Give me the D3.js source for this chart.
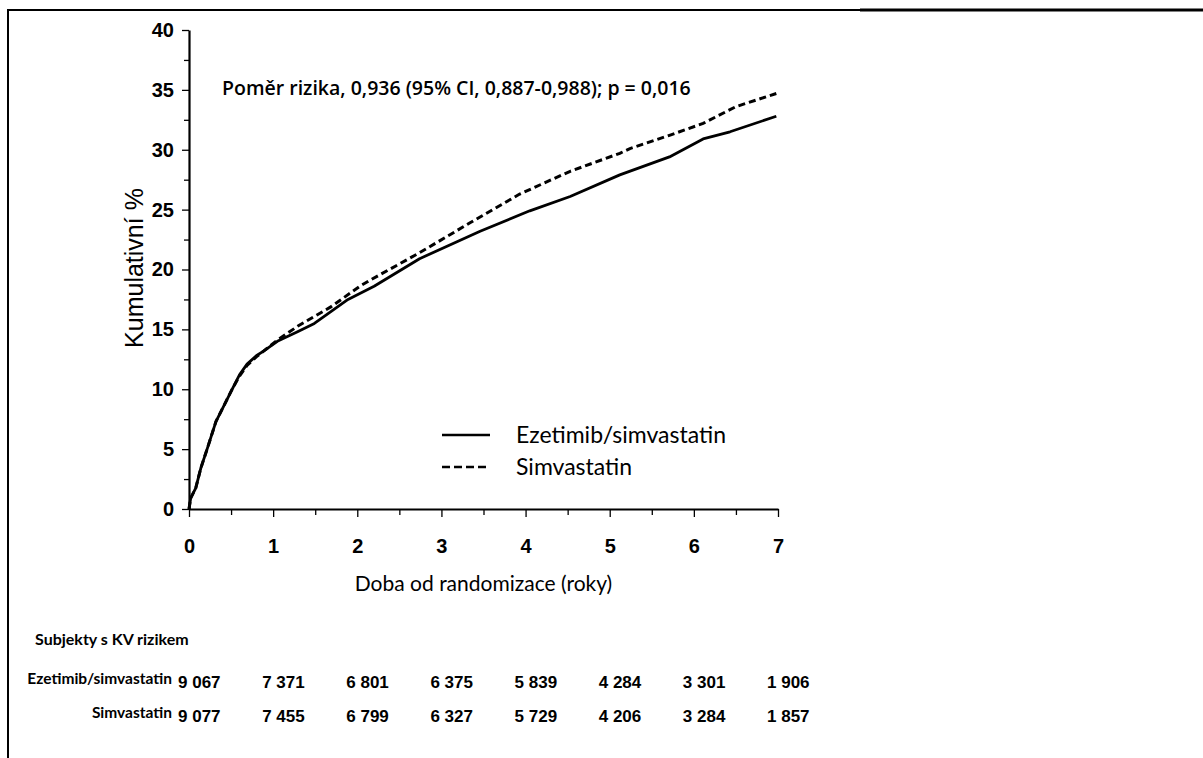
<!DOCTYPE html>
<html>
<head>
<meta charset="utf-8">
<script src="https://cdn.jsdelivr.net/npm/d3@7"></script>
<style>
  body { margin: 0; background: #fff; }
  svg { display: block; }
</style>
</head>
<body>
<div id="chart"></div>
<script>
const width = 1203, height = 758;
const margin = { top: 30, right: 425, bottom: 249, left: 189 };

// Kaplan-Meier curves (years, cumulative %)
const ezeTime = [0, 0.02, 0.08, 0.14, 0.22, 0.32, 0.42, 0.52, 0.6, 0.69, 0.8, 0.89, 1.05, 1.29, 1.49, 1.69, 1.89, 2.2, 2.74, 3.46, 4.05, 4.53, 5.12, 5.71, 6.11, 6.43, 6.98];
const ezeValue = [0, 0.9, 1.75, 3.4, 5.1, 7.3, 8.7, 10.1, 11.2, 12.1, 12.8, 13.2, 14.0, 14.8, 15.5, 16.5, 17.5, 18.6, 20.9, 23.2, 24.9, 26.1, 27.9, 29.4, 30.9, 31.5, 32.8];

const simTime = [0, 0.02, 0.08, 0.14, 0.22, 0.32, 0.42, 0.52, 0.6, 0.69, 0.8, 0.89, 1.05, 1.3, 1.69, 2.03, 2.15, 2.74, 3.34, 3.93, 4.53, 5.12, 5.24, 5.71, 6.11, 6.5, 6.98];
const simValue = [0, 0.9, 1.75, 3.4, 5.1, 7.3, 8.7, 10.1, 11.1, 12.0, 12.7, 13.2, 14.1, 15.3, 16.9, 18.6, 19.1, 21.4, 23.9, 26.3, 28.2, 29.7, 30.1, 31.2, 32.2, 33.6, 34.7];

// Number at risk table
const years = [0, 1, 2, 3, 4, 5, 6, 7];
const ezeAtRisk = ['9 067', '7 371', '6 801', '6 375', '5 839', '4 284', '3 301', '1 906'];
const simAtRisk = ['9 077', '7 455', '6 799', '6 327', '5 729', '4 206', '3 284', '1 857'];

const yTicks = [0, 5, 10, 15, 20, 25, 30, 35, 40];
const yMinorTicks = [2.5, 7.5, 12.5, 17.5, 22.5, 27.5, 32.5, 37.5];
const xMinorTicks = [0.5, 1.5, 2.5, 3.5, 4.5, 5.5, 6.5];

const svg = d3.select('#chart').append('svg')
    .attr('width', width)
    .attr('height', height);

// Frame lines (top and left edge of the figure)
svg.append('line').attr('x1', 8).attr('x2', 860).attr('y1', 10).attr('y2', 10)
    .attr('stroke', '#000').attr('stroke-width', 2);
svg.append('line').attr('x1', 860).attr('x2', width).attr('y1', 10).attr('y2', 10)
    .attr('stroke', '#000').attr('stroke-width', 3);
svg.append('line').attr('x1', 8).attr('x2', 8).attr('y1', 9).attr('y2', height)
    .attr('stroke', '#000').attr('stroke-width', 2);

const x = d3.scaleLinear()
    .domain([0, 7])
    .range([margin.left, width - margin.right]);

const y = d3.scaleLinear()
    .domain([0, 40])
    .range([height - margin.bottom, margin.top]);

// Y Axis
const yAxis = svg.append('g')
    .attr('transform', `translate(${margin.left},0)`)
    .call(d3.axisLeft(y).tickValues(yTicks).tickSize(7).tickSizeOuter(0).tickPadding(8));
svg.append('g')
    .attr('transform', `translate(${margin.left},0)`)
    .call(d3.axisLeft(y).tickValues(yMinorTicks).tickSize(5).tickSizeOuter(0).tickFormat(''))
    .select('.domain').remove();

// X Axis
const xAxis = svg.append('g')
    .attr('transform', `translate(0,${height - margin.bottom})`)
    .call(d3.axisBottom(x).tickValues(years).tickFormat(d3.format('d'))
        .tickSize(8).tickSizeOuter(0).tickPadding(22));
svg.append('g')
    .attr('transform', `translate(0,${height - margin.bottom})`)
    .call(d3.axisBottom(x).tickValues(xMinorTicks).tickSize(6).tickSizeOuter(0).tickFormat(''))
    .select('.domain').remove();

svg.selectAll('.domain').attr('stroke-width', 2.2);
svg.selectAll('.tick line').attr('stroke-width', 1.3);
[yAxis, xAxis].forEach(g => g.selectAll('text')
    .style('font-family', '"Liberation Sans", Arial, sans-serif')
    .style('font-size', '20px')
    .style('font-weight', 'bold')
    .attr('fill', '#000'));

// Y Label
svg.append('text')
    .attr('transform', 'rotate(-90)')
    .attr('x', -268)
    .attr('y', 143)
    .attr('text-anchor', 'middle')
    .style('font-family', '"Liberation Sans", Arial, sans-serif')
    .style('font-size', '25px')
    .text('Kumulativní %');

// X Label
svg.append('text')
    .attr('x', x(3.5))
    .attr('y', 591)
    .attr('text-anchor', 'middle')
    .style('font-family', 'Lato, "Open Sans", sans-serif')
    .style('font-size', '21px')
    .text('Doba od randomizace (roky)');

// Hazard ratio note
svg.append('text')
    .attr('x', 222)
    .attr('y', 95)
    .style('font-family', '"Open Sans", sans-serif')
    .style('font-size', '19.5px')
    .style('font-weight', 600)
    .text('Poměr rizika, 0,936 (95% CI, 0,887-0,988); p = 0,016');

// Curves
const line = d3.line()
    .x(d => x(d[0]))
    .y(d => y(d[1]));

svg.append('path')
    .datum(simTime.map((t, i) => [t, simValue[i]]))
    .attr('fill', 'none')
    .attr('stroke', '#000')
    .attr('stroke-width', 3)
    .attr('stroke-dasharray', '7,4')
    .attr('d', line);

svg.append('path')
    .datum(ezeTime.map((t, i) => [t, ezeValue[i]]))
    .attr('fill', 'none')
    .attr('stroke', '#000')
    .attr('stroke-width', 2.8)
    .attr('stroke-linejoin', 'round')
    .attr('d', line);

// Legend
const legend = svg.append('g').attr('transform', 'translate(442,435)');
[['Ezetimib/simvastatin', null], ['Simvastatin', '8,4']].forEach(([name, dash], i) => {
    const row = legend.append('g').attr('transform', `translate(0,${i * 32})`);
    row.append('line')
        .attr('x1', 0).attr('x2', 48)
        .attr('stroke', '#000')
        .attr('stroke-width', 2.5)
        .attr('stroke-dasharray', dash);
    row.append('text')
        .attr('x', 74)
        .attr('y', 8)
        .style('font-family', 'Lato, "Open Sans", sans-serif')
        .style('font-size', '23px')
        .text(name);
});

// At-risk table
svg.append('text')
    .attr('x', 35)
    .attr('y', 645)
    .style('font-family', 'Lato, sans-serif')
    .style('font-size', '16px')
    .style('font-weight', 'bold')
    .text('Subjekty s KV rizikem');

[['Ezetimib/simvastatin', ezeAtRisk, 688], ['Simvastatin', simAtRisk, 722]].forEach(([name, vals, yy]) => {
    svg.append('text')
        .attr('x', 172)
        .attr('y', yy - 4)
        .attr('text-anchor', 'end')
        .style('font-family', 'Lato, sans-serif')
        .style('font-size', '15.5px')
        .style('font-weight', 'bold')
        .text(name);
    svg.selectAll(null)
        .data(vals)
        .enter()
        .append('text')
        .attr('x', (d, i) => x(years[i]) - 11)
        .attr('y', yy)
        .style('font-family', '"Liberation Sans", Arial, sans-serif')
        .style('font-size', '17px')
        .style('font-weight', 'bold')
        .text(d => d);
});
</script>
</body>
</html>
